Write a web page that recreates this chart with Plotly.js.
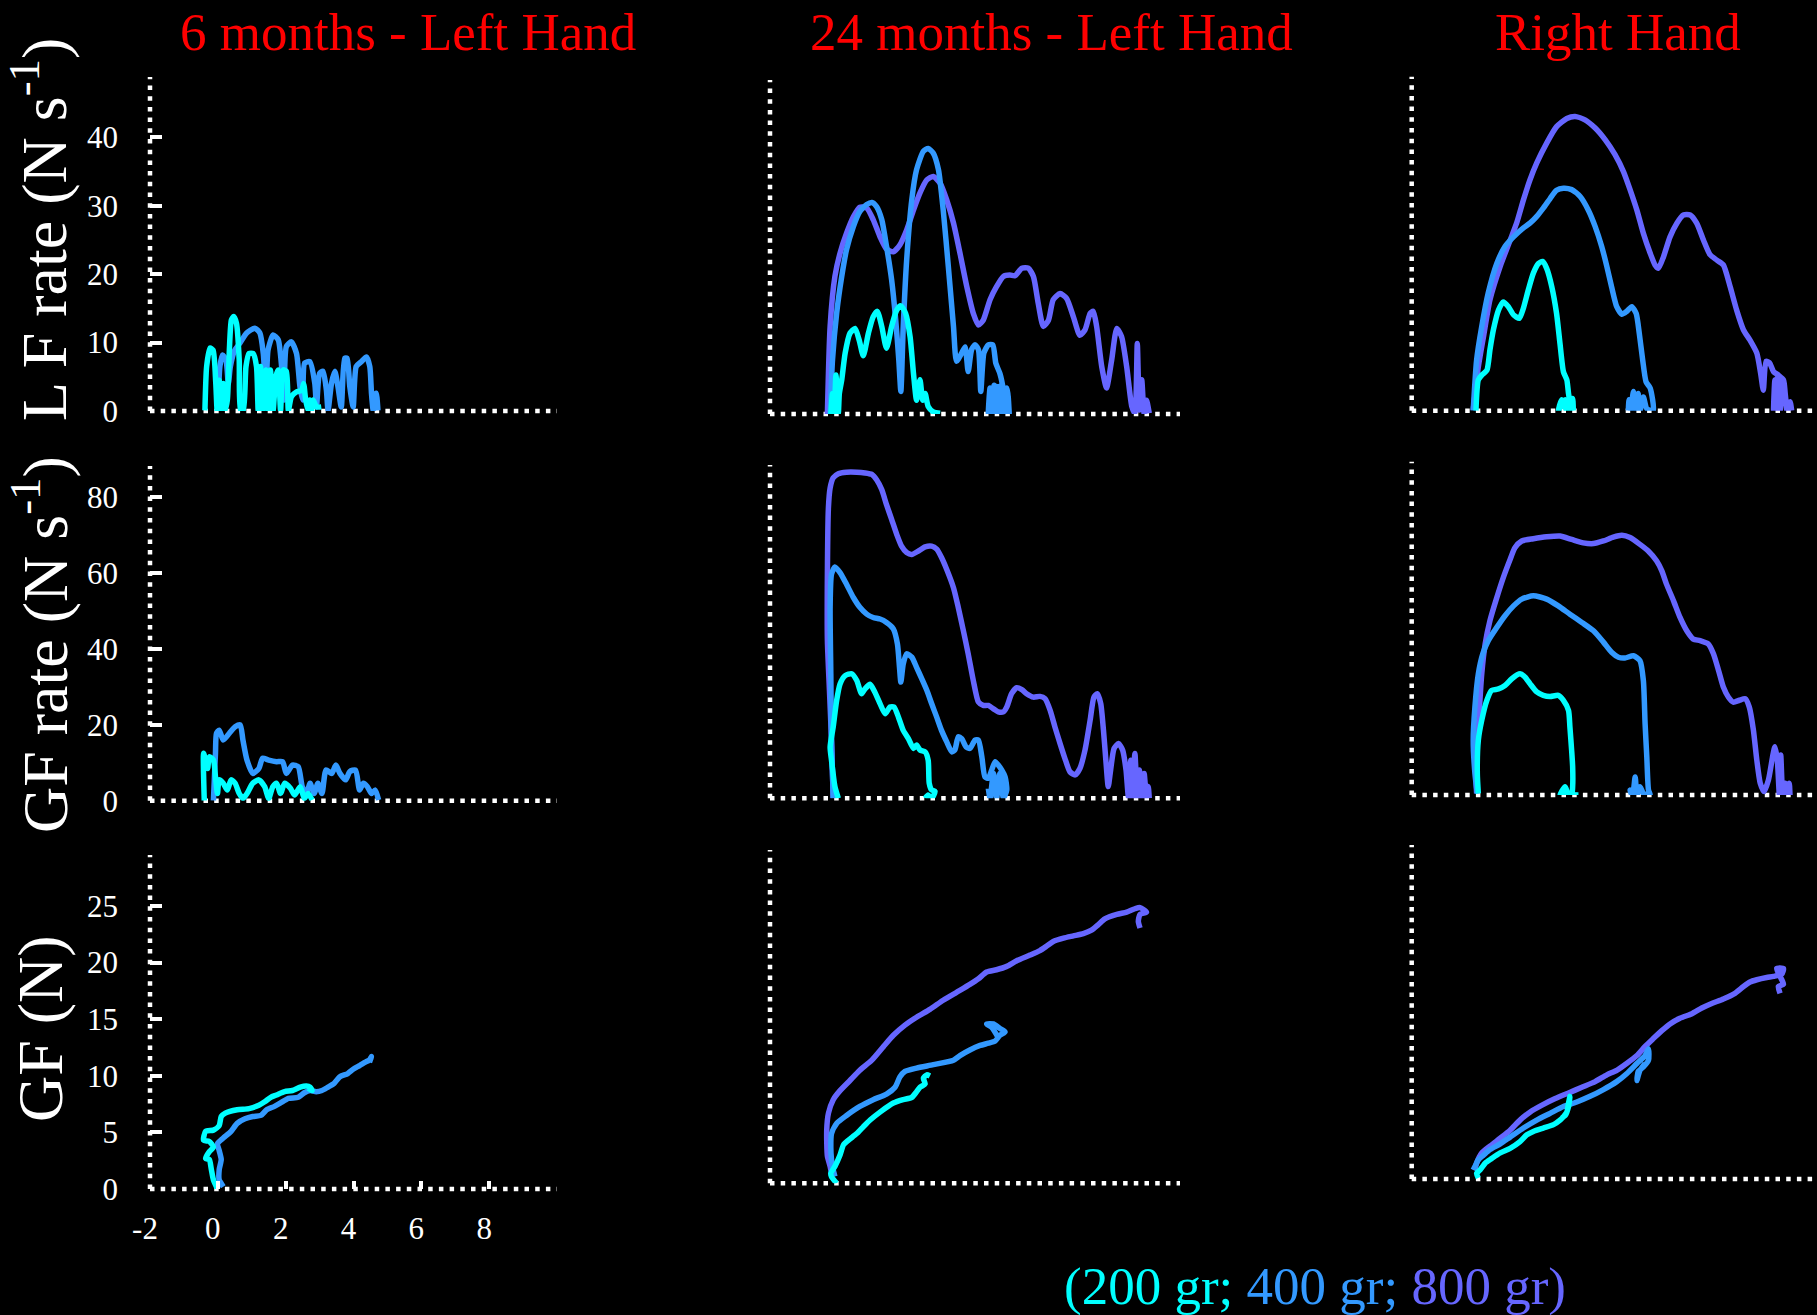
<!DOCTYPE html>
<html><head><meta charset="utf-8">
<script src="https://cdn.plot.ly/plotly-3.0.1.min.js"></script>
<style>html,body{margin:0;padding:0;background:#000;}#chart{width:1817px;height:1315px;}</style>
</head><body><div id="chart"></div>
<script>
// ---- labels ----
const weightLabels = ['200 gr', '400 gr', '800 gr'];
const weightColors = ['#00FFFF', '#3399FF', '#6666FF'];
const colTitles = ['6 months - Left Hand', '24 months - Left Hand', 'Right Hand'];
const rowTitles = ['L F rate (N s<sup>-1</sup>)', 'GF rate (N s<sup>-1</sup>)', 'GF (N)'];
const xTickVals = [-2, 0, 2, 4, 6, 8];
const yTickVals = [[0, 10, 20, 30, 40], [0, 20, 40, 60, 80], [0, 5, 10, 15, 20, 25]];

// ---- Row 1: LF rate ----
const lfr_m6_200_x = [-0.38,-0.33,-0.23,-0.14,-0.06,-0.02,0.04,0.09,0.16,0.21,0.28,0.34,0.40,0.47,0.55,0.63,0.67,0.75,0.83,0.92,1.04,1.14,1.19,1.26,1.32,1.42,1.48,1.55,1.63,1.71,1.78,1.85,1.93,2.02,2.08,2.17,2.32,2.47,2.53,2.59,2.66,2.71,2.76,2.81,2.91,3.05];
const lfr_m6_200_y = [0.1,6.5,9.2,8.9,4.0,0.1,4.5,0.1,4.0,0.1,1.6,8.9,13.3,13.8,12.8,7.5,0.1,0.1,6.5,8.4,8.4,6.5,0.1,6.5,0.1,6.0,0.1,6.0,0.1,5.0,6.0,0.1,6.0,5.8,0.1,2.1,2.8,3.0,4.0,1.6,0.1,1.6,0,1.6,0.6,0.6];
const lfr_m6_400_x = [0.01,0.06,0.14,0.24,0.31,0.37,0.50,0.65,0.85,1.09,1.24,1.34,1.42,1.48,1.63,1.78,1.88,1.95,2.02,2.17,2.32,2.42,2.50,2.56,2.71,2.86,2.91,3.00,3.10,3.20,3.25,3.35,3.45,3.54,3.64,3.74,3.81,3.89,3.99,4.08,4.23,4.38,4.48,4.53,4.58,4.62,4.67,4.72];
const lfr_m6_400_y = [0,6.5,8.2,7.5,4.0,6.5,8.9,9.9,11.4,12.1,11.4,8.4,2.6,8.9,11.1,10.4,6.5,1.6,9.4,10.1,8.4,3.6,1.6,7.0,7.2,4.0,0.6,5.5,5.8,3.1,0.1,4.0,5.8,3.6,0.6,7.7,7.7,3.6,0.6,6.5,7.2,7.9,6.5,2.6,0.1,2.1,2.6,0.1];

const lfr_m24_200_x = [-0.22,-0.17,-0.12,-0.07,0.00,0.03,0.10,0.20,0.34,0.49,0.61,0.73,0.88,1.02,1.14,1.27,1.41,1.56,1.71,1.83,1.97,2.10,2.20,2.29,2.39,2.47,2.54,2.63,2.78,2.98];
const lfr_m24_200_y = [0,3.0,0.1,5.7,0.1,3.0,5.0,8.9,11.8,12.5,10.8,8.5,11.8,14.2,15.0,12.8,9.6,12.8,15.2,15.8,14.7,11.3,5.9,2.0,5.0,2.0,3.0,1.1,0.3,0.1];
const lfr_m24_400_x = [-0.24,-0.17,-0.05,0.10,0.24,0.44,0.63,0.83,0.98,1.12,1.27,1.41,1.56,1.68,1.77,1.83,1.90,2.00,2.15,2.29,2.49,2.63,2.78,2.93,3.07,3.22,3.37,3.46,3.61,3.71,3.80,3.90,4.00,4.10,4.17,4.26,4.39,4.52,4.61,4.73,4.83,4.88,4.78,4.71,4.63,4.56,4.49,4.44,4.39,4.49,4.63,4.78,4.93,5.00,4.96,4.88];
const lfr_m24_400_y = [0,7.9,14.7,20.1,24.0,27.4,29.6,30.6,30.9,30.3,28.4,24.5,19.6,13.7,7.9,3.3,12.8,22.5,31.3,35.7,38.4,38.8,38.1,35.7,29.8,21.5,12.8,7.7,8.9,9.8,6.2,9.4,10.1,9.4,3.3,8.9,10.1,10.1,7.4,5.9,3.5,1.1,0.1,4.0,0.1,4.2,0.1,3.8,0.1,3.0,4.0,3.0,3.8,0.1,3.0,0];
const lfr_m24_800_x = [-0.32,-0.24,-0.10,0.05,0.24,0.44,0.63,0.83,1.02,1.22,1.41,1.61,1.80,2.00,2.20,2.39,2.59,2.78,2.98,3.17,3.37,3.56,3.76,3.95,4.10,4.24,4.44,4.63,4.83,5.02,5.17,5.37,5.56,5.71,5.85,6.00,6.15,6.29,6.49,6.68,6.88,7.07,7.22,7.37,7.46,7.56,7.71,7.85,8.00,8.15,8.29,8.44,8.59,8.68,8.75,8.81,8.88,8.95,9.02,9.10];
const lfr_m24_800_y = [0,12.8,20.1,23.5,26.4,28.8,30.2,30.1,28.4,25.9,24.1,23.7,24.7,26.9,29.8,32.3,34.2,34.7,33.7,31.3,27.9,23.5,18.6,14.7,13.0,13.7,16.7,18.6,20.1,20.3,20.2,21.3,21.3,20.1,16.2,12.8,13.7,16.7,17.6,16.9,14.2,11.5,12.3,14.7,15.0,12.8,6.9,3.8,7.9,12.5,11.3,6.9,1.1,0.1,10.3,0.6,5.0,0.1,2.0,0.1];

const lfr_rh_200_x = [-0.12,-0.05,0.05,0.20,0.29,0.39,0.54,0.68,0.83,0.98,1.15,1.27,1.41,1.56,1.71,1.83,1.95,2.10,2.24,2.34,2.44,2.54,2.59,2.63,2.68,2.54,2.39,2.29,2.49,2.63,2.71,2.73];
const lfr_rh_200_y = [0,4.5,5.2,5.9,8.9,11.8,14.7,15.9,15.2,14.0,13.5,15.0,17.6,20.1,21.5,21.8,20.8,18.1,14.2,9.8,5.7,4.5,2.5,1.3,0,0,1.6,0,1.6,0,1.8,0];
const lfr_rh_400_x = [-0.20,-0.10,0.05,0.24,0.49,0.73,0.98,1.27,1.46,1.66,1.85,2.05,2.24,2.44,2.68,2.93,3.17,3.37,3.56,3.71,3.85,4.00,4.15,4.29,4.44,4.57,4.66,4.76,4.86,4.98,5.07,4.88,4.78,4.68,4.63,4.57,4.49,4.41,4.36,4.34];
const lfr_rh_400_y = [0,7.4,12.3,17.2,21.5,24.0,25.4,26.7,27.4,28.4,29.6,31.0,32.2,32.5,32.3,31.3,29.3,26.9,24.0,21.1,18.1,15.2,14.1,14.5,15.2,14.2,11.3,7.4,4.2,3.3,0,0.3,2.0,0,2.5,0,2.8,0,1.6,0];
const lfr_rh_800_x = [-0.20,-0.05,0.10,0.29,0.59,0.88,1.07,1.27,1.46,1.66,1.95,2.24,2.54,2.78,3.07,3.37,3.66,3.95,4.20,4.39,4.59,4.78,4.98,5.12,5.22,5.37,5.56,5.76,5.95,6.15,6.34,6.54,6.73,6.93,7.12,7.32,7.51,7.71,7.90,8.10,8.21,8.29,8.37,8.47,8.59,8.73,8.88,8.93,8.98,8.88,8.78,8.68,8.59,8.63,8.73,8.83,8.98,9.07,9.12];
const lfr_rh_800_y = [0.1,6.4,10.8,16.2,21.1,24.9,27.4,30.8,33.7,36.2,39.1,41.5,42.7,43.0,42.5,41.3,39.6,37.4,34.9,32.3,29.3,25.9,23.0,21.3,20.8,22.5,25.4,27.4,28.6,28.6,27.4,24.9,22.8,22.0,21.3,18.1,14.7,11.8,10.3,8.4,5.5,3.0,7.2,7.0,5.7,5.2,4.5,2.5,0,4.2,0,4.7,0,4.5,0,4.5,0.6,1.3,0];

// ---- Row 2: GF rate ----
const gfr_m6_200_x = [-0.40,-0.42,-0.36,-0.30,-0.25,-0.13,-0.07,-0.01,0.04,0.16,0.28,0.39,0.51,0.63,0.74,0.86,1.03,1.21,1.38,1.50,1.62,1.73,1.85,1.97,2.14,2.26,2.43,2.55,2.66,2.78];
const gfr_m6_200_y = [0,12.5,10.7,8.5,11.6,10.7,6.3,1.9,5.5,4.6,2.8,5.5,4.6,1.9,0.6,1.9,4.6,5.5,3.7,0.6,3.7,4.6,1.9,4.6,3.3,1.5,3.7,0.6,1.9,0.2];
const gfr_m6_400_x = [-0.13,-0.07,-0.04,0.04,0.16,0.34,0.51,0.66,0.74,0.86,1.03,1.21,1.32,1.50,1.73,1.91,2.02,2.20,2.37,2.49,2.61,2.72,2.84,2.95,3.07,3.19,3.36,3.48,3.60,3.77,3.89,4.06,4.18,4.29,4.41,4.53,4.64,4.74];
const gfr_m6_400_y = [0,12.5,17.8,18.6,16.0,17.8,19.5,20.0,16.0,10.7,7.2,8.5,11.2,10.7,10.3,10.3,7.2,9.4,9.0,3.7,1.9,4.6,1.9,4.6,1.9,8.1,7.2,9.4,7.2,5.5,7.7,8.1,2.8,4.6,3.7,1.9,2.8,0.2];

const gfr_m24_200_x = [0.00,-0.10,-0.20,-0.24,-0.15,-0.05,0.05,0.20,0.39,0.54,0.68,0.78,0.93,1.07,1.22,1.37,1.51,1.63,1.76,1.90,2.05,2.20,2.29,2.39,2.54,2.63,2.66,2.73,2.83,2.73,2.63,2.54];
const gfr_m24_200_y = [0,3.1,10.1,13.6,18.9,25.9,30.3,32.5,33.0,31.2,27.7,29.0,30.2,28.1,25.1,22.4,24.2,24.2,21.5,18.0,15.8,13.2,14.1,12.8,12.3,10.1,4.0,2.2,1.8,0,0.9,0];
const gfr_m24_400_x = [-0.15,-0.20,-0.22,-0.24,-0.20,-0.10,0.05,0.24,0.44,0.63,0.83,1.02,1.22,1.41,1.61,1.73,1.79,1.83,1.90,2.00,2.15,2.29,2.44,2.59,2.73,2.88,3.02,3.17,3.32,3.41,3.51,3.61,3.74,3.85,4.00,4.10,4.20,4.29,4.39,4.49,4.59,4.68,4.78,4.88,4.93,4.83,4.73,4.63,4.54,4.44,4.39];
const gfr_m24_400_y = [0,15.4,33.0,50.6,59.4,61.3,59.8,56.7,53.2,50.6,48.8,47.9,47.5,46.6,44.9,40.9,34.7,30.8,35.6,38.3,37.4,34.7,31.7,28.6,25.1,21.5,18.0,15.0,12.3,12.8,16.3,15.8,13.6,13.2,15.4,15.4,11.0,5.7,5.3,7.5,9.7,8.8,7.5,5.7,2.2,0,6.6,0,6.6,0,2.6];
const gfr_m24_800_x = [-0.15,-0.20,-0.26,-0.32,-0.32,-0.29,-0.24,-0.15,0.00,0.24,0.54,0.78,0.98,1.12,1.27,1.41,1.56,1.71,1.85,2.00,2.15,2.34,2.54,2.73,2.88,3.02,3.17,3.37,3.51,3.66,3.80,3.95,4.10,4.24,4.39,4.54,4.68,4.83,4.93,5.07,5.22,5.37,5.51,5.71,5.90,6.05,6.20,6.34,6.49,6.63,6.78,6.93,7.07,7.22,7.37,7.48,7.58,7.68,7.76,7.83,7.90,7.97,8.07,8.20,8.32,8.42,8.49,8.56,8.61,8.68,8.75,8.81,8.88,8.95,9.02,9.07,9.10];
const gfr_m24_800_y = [0,15.4,28.6,41.8,59.4,77.0,82.2,84.9,86.0,86.4,86.4,86.2,85.8,84.4,81.8,77.8,73.9,69.9,66.8,65.1,64.6,65.5,66.6,66.8,66.0,63.8,60.7,55.8,50.6,44.4,38.3,31.2,25.5,24.6,24.6,23.7,22.9,22.9,24.2,27.7,29.3,28.8,27.7,26.8,27.0,26.4,23.3,18.9,14.5,10.6,7.0,6.2,7.9,12.8,20.7,26.8,27.7,25.1,18.0,10.1,3.1,7.5,13.2,14.5,12.8,7.5,0.4,10.1,0,11.9,0,7.5,0,6.6,0,3.1,0];

const gfr_rh_200_x = [-0.05,-0.08,-0.05,0.05,0.20,0.34,0.54,0.73,0.93,1.17,1.32,1.46,1.66,1.85,2.05,2.29,2.44,2.59,2.63,2.68,2.71,2.71,2.68,2.44,2.34,2.49,2.59,2.78,2.88];
const gfr_rh_200_y = [0.4,5.7,14.5,19.8,25.1,27.7,28.1,29.0,30.8,32.1,31.2,29.5,27.3,26.4,26.1,26.4,25.1,22.4,18.0,11.9,7.5,2.2,0,0.4,0,2.2,0,0,0];
const gfr_rh_400_x = [-0.08,-0.15,-0.20,-0.15,-0.05,0.08,0.24,0.49,0.73,0.98,1.22,1.56,1.95,2.29,2.63,2.98,3.32,3.61,3.85,4.05,4.24,4.49,4.68,4.78,4.83,4.88,4.93,4.98,4.78,4.68,4.59,4.54,4.47,4.39,4.44];
const gfr_rh_400_y = [0.4,5.7,14.5,23.3,32.1,37.4,40.9,44.4,47.5,50.1,51.9,52.8,51.9,50.1,47.9,45.7,43.5,40.5,37.8,36.5,36.3,36.9,35.6,30.3,18.9,10.1,1.3,0,0.4,2.2,0,4.8,0.4,1.3,0];
const gfr_rh_800_x = [-0.10,-0.12,-0.05,0.05,0.15,0.29,0.49,0.68,0.88,1.02,1.22,1.56,1.95,2.34,2.68,3.02,3.32,3.61,3.90,4.15,4.39,4.68,4.93,5.17,5.32,5.46,5.66,5.85,6.05,6.24,6.44,6.68,6.83,6.98,7.12,7.27,7.41,7.59,7.76,7.88,8.00,8.10,8.20,8.31,8.44,8.57,8.63,8.70,8.76,8.80,8.86,8.93,9.00,9.05,9.07];
const gfr_rh_800_y = [0.4,5.7,18.0,32.1,40.0,46.2,52.3,57.6,62.4,65.5,67.3,67.9,68.4,68.6,67.7,66.8,66.6,67.3,68.3,68.8,68.2,66.4,64.6,62.0,59.4,55.8,51.5,47.1,43.5,41.3,40.9,40.0,37.4,33.0,28.6,25.9,24.6,25.1,25.5,23.3,17.2,9.2,3.1,0.9,4.0,10.6,12.8,9.2,0,10.6,0,3.1,0,3.1,0];

// ---- Row 3: GF ----
const gf_m6_200_x = [-0.01,-0.13,-0.19,-0.25,-0.36,-0.25,-0.13,-0.25,-0.42,-0.36,-0.13,0.04,0.10,0.22,0.57,0.92,1.21,1.38,1.56,1.73,1.97,2.20,2.43,2.61,2.72,2.78,2.66];
const gf_m6_200_y = [0,0.8,1.7,2.6,2.7,3.3,3.7,4.2,4.3,5.1,5.2,5.6,6.4,6.7,7.0,7.1,7.4,7.7,8.1,8.3,8.6,8.7,9.0,9.1,9.0,8.7,8.9];
const gf_m6_400_x = [0.16,0.10,0.04,0.04,0.10,0.04,-0.01,0.16,0.39,0.57,0.80,1.03,1.27,1.44,1.67,1.85,2.08,2.37,2.55,2.72,2.90,3.07,3.25,3.42,3.59,3.83,4.00,4.18,4.35,4.47,4.53,4.47];
const gf_m6_400_y = [0.2,0.5,0.8,1.7,2.6,3.4,4.0,4.5,5.1,5.8,6.2,6.4,6.5,7.0,7.3,7.6,8.0,8.1,8.5,8.7,8.6,8.7,9.0,9.3,9.9,10.2,10.6,10.9,11.2,11.4,11.7,11.2];

const gf_m24_200_x = [-0.05,-0.20,-0.22,-0.10,0.05,0.15,0.29,0.54,0.73,0.93,1.22,1.61,1.90,2.15,2.29,2.39,2.54,2.49,2.59,2.68];
const gf_m24_200_y = [0,0.6,0.9,1.5,2.5,3.4,3.8,4.4,5.0,5.6,6.3,7.1,7.4,7.6,8.1,8.5,8.8,9.3,9.6,9.5];
const gf_m24_400_x = [-0.10,-0.15,-0.20,-0.22,-0.20,-0.05,0.24,0.63,1.02,1.41,1.66,1.80,1.95,2.29,2.78,3.37,3.56,3.85,4.15,4.39,4.59,4.73,4.88,4.73,4.54,4.34,4.49,4.68];
const gf_m24_400_y = [0.6,1.2,2.1,3.2,4.4,5.3,6.0,6.8,7.4,7.9,8.5,9.4,9.9,10.2,10.5,10.9,11.3,11.8,12.2,12.4,12.6,13.1,13.4,13.7,14.1,14.1,13.8,12.9];
const gf_m24_800_x = [-0.20,-0.24,-0.32,-0.34,-0.29,-0.15,0.05,0.34,0.63,0.98,1.32,1.61,1.95,2.29,2.68,3.07,3.46,3.85,4.10,4.34,4.63,4.93,5.22,5.61,5.90,6.10,6.29,6.59,6.88,7.17,7.41,7.61,7.80,8.15,8.44,8.68,8.83,9.02,8.83,8.78,8.83];
const gf_m24_800_y = [0.9,1.5,2.4,4.7,6.2,7.4,8.2,9.1,10.0,10.9,12.1,13.1,14.0,14.7,15.4,16.2,16.9,17.6,18.1,18.7,18.9,19.2,19.7,20.2,20.6,21.0,21.4,21.7,21.9,22.1,22.4,22.9,23.4,23.8,24.0,24.3,24.4,24.0,23.8,23.2,22.6];

const gf_rh_200_x = [-0.05,-0.10,0.00,0.15,0.34,0.59,0.88,1.17,1.37,1.56,1.85,2.15,2.34,2.44,2.54,2.59,2.63,2.59,2.49,2.39];
const gf_rh_200_y = [0.1,0.5,0.8,1.4,1.8,2.3,2.7,3.3,3.9,4.2,4.5,4.8,5.2,5.5,5.9,6.7,7.3,6.4,5.6,5.4];
const gf_rh_400_x = [-0.20,-0.15,-0.05,0.10,0.29,0.59,0.88,1.27,1.66,2.05,2.44,2.83,3.22,3.61,4.00,4.29,4.59,4.83,4.93,4.93,4.78,4.63,4.59,4.68,4.83];
const gf_rh_400_y = [0.8,1.1,1.7,2.1,2.6,3.1,3.7,4.5,5.2,5.8,6.4,6.8,7.3,7.9,8.6,9.3,10.2,10.9,11.5,10.5,9.9,9.5,8.7,9.6,10.2];
const gf_rh_800_x = [-0.15,-0.10,0.05,0.29,0.59,0.88,1.17,1.46,1.80,2.20,2.59,2.98,3.37,3.71,4.00,4.29,4.59,4.83,5.07,5.32,5.56,5.85,6.20,6.49,6.78,7.12,7.46,7.71,7.90,8.10,8.39,8.59,8.83,8.88,8.68,8.78,8.88,8.73,8.78];
const gf_rh_800_y = [0.8,1.4,2.3,2.9,3.6,4.3,5.2,5.9,6.5,7.1,7.6,8.1,8.6,9.2,9.6,10.2,10.9,11.7,12.4,13.1,13.7,14.2,14.6,15.1,15.5,15.9,16.4,17.0,17.4,17.6,17.8,17.9,18.1,18.6,18.6,17.9,17.2,17.0,16.4];

// ---- panel assembly (panel n = row*3 + col + 1); series order: 800, 400, 200 (200 on top) ----
const panelSeries = {
  1: [[1, lfr_m6_400_x, lfr_m6_400_y], [0, lfr_m6_200_x, lfr_m6_200_y]],
  2: [[2, lfr_m24_800_x, lfr_m24_800_y], [1, lfr_m24_400_x, lfr_m24_400_y], [0, lfr_m24_200_x, lfr_m24_200_y]],
  3: [[2, lfr_rh_800_x, lfr_rh_800_y], [1, lfr_rh_400_x, lfr_rh_400_y], [0, lfr_rh_200_x, lfr_rh_200_y]],
  4: [[1, gfr_m6_400_x, gfr_m6_400_y], [0, gfr_m6_200_x, gfr_m6_200_y]],
  5: [[2, gfr_m24_800_x, gfr_m24_800_y], [1, gfr_m24_400_x, gfr_m24_400_y], [0, gfr_m24_200_x, gfr_m24_200_y]],
  6: [[2, gfr_rh_800_x, gfr_rh_800_y], [1, gfr_rh_400_x, gfr_rh_400_y], [0, gfr_rh_200_x, gfr_rh_200_y]],
  7: [[1, gf_m6_400_x, gf_m6_400_y], [0, gf_m6_200_x, gf_m6_200_y]],
  8: [[2, gf_m24_800_x, gf_m24_800_y], [1, gf_m24_400_x, gf_m24_400_y], [0, gf_m24_200_x, gf_m24_200_y]],
  9: [[2, gf_rh_800_x, gf_rh_800_y], [1, gf_rh_400_x, gf_rh_400_y], [0, gf_rh_200_x, gf_rh_200_y]]
};

// ---- layout geometry ----
const W = 1817, H = 1315;
const xDom = [[150 / W, 557 / W], [770 / W, 1180 / W], [1411.7 / W, 1]];
const xRng = [[-2, 10], [-2, 10], [-2, 9.861]];
const yDomPx = [
  [[411, 77], [414, 80], [410.7, 76.7]],
  [[800.7, 466], [798.3, 465], [795, 461.7]],
  [[1189, 855], [1183.3, 850], [1179, 845]]
];
const yRng = [[0, 48.8], [0, 88.3], [0, 29.5]];
const FONT = 'Liberation Serif, Times New Roman, serif';

const traces = [];
const layout = {
  width: W, height: H,
  paper_bgcolor: '#000', plot_bgcolor: '#000',
  margin: {l: 0, r: 0, t: 0, b: 0},
  showlegend: false,
  hovermode: false,
  font: {family: FONT, color: '#fff'},
  shapes: [], annotations: []
};

for (let r = 0; r < 3; r++) {
  for (let c = 0; c < 3; c++) {
    const n = r * 3 + c + 1;
    const sfx = n === 1 ? '' : String(n);
    const xa = {
      domain: xDom[c], range: xRng[c], anchor: 'y' + sfx,
      showgrid: false, zeroline: false, showline: false,
      showticklabels: false, ticks: ''
    };
    if (r === 2 && c === 0) {
      Object.assign(xa, {
        tickmode: 'array', tickvals: xTickVals, ticktext: xTickVals.map(String),
        showticklabels: true, ticks: 'inside', ticklen: 8, tickwidth: 4, tickcolor: '#fff',
        tickfont: {family: FONT, size: 31, color: '#fff'},
        ticklabelstandoff: 18, ticklabelshift: -5
      });
    }
    const yd = yDomPx[r][c];
    const ya = {
      domain: [1 - yd[0] / H, 1 - yd[1] / H], range: yRng[r], anchor: 'x' + sfx,
      showgrid: false, zeroline: false, showline: false,
      showticklabels: false, ticks: ''
    };
    if (c === 0) {
      Object.assign(ya, {
        tickmode: 'array', tickvals: yTickVals[r], ticktext: yTickVals[r].map(String),
        showticklabels: true, ticks: 'inside', ticklen: 12, tickwidth: 4, tickcolor: '#fff',
        tickfont: {family: FONT, size: 31, color: '#fff'},
        ticklabelstandoff: 31
      });
    }
    layout['xaxis' + sfx] = xa;
    layout['yaxis' + sfx] = ya;

    // dotted axis lines
    const dotted = {color: '#fff', width: 4.5, dash: '4.5px,6.2px'};
    layout.shapes.push({type: 'line', xref: 'x' + sfx + ' domain', yref: 'y' + sfx + ' domain',
      x0: 0, x1: 0, y0: 0, y1: 1, line: dotted, layer: 'below'});
    layout.shapes.push({type: 'line', xref: 'x' + sfx + ' domain', yref: 'y' + sfx + ' domain',
      x0: 0, x1: 1, y0: 0, y1: 0, line: dotted, layer: 'below'});

    panelSeries[n].forEach(([w, xs, ys]) => {
      traces.push({
        type: 'scatter', mode: 'lines', x: xs, y: ys,
        xaxis: 'x' + sfx, yaxis: 'y' + sfx, name: weightLabels[w],
        line: {color: weightColors[w], width: 5.5, shape: 'spline', smoothing: 0.6},
        hoverinfo: 'skip'
      });
    });
  }
}

// column titles
const colTitleX = [408, 1051.6, 1617.6];
colTitles.forEach((t, i) => layout.annotations.push({
  text: t, xref: 'paper', yref: 'paper', x: colTitleX[i] / W, y: 1 - 32 / H,
  xanchor: 'center', yanchor: 'middle', showarrow: false,
  font: {family: FONT, size: 53, color: '#FF0000'}
}));
// row titles
const rowTitleY = [230, 645, 1029];
rowTitles.forEach((t, i) => layout.annotations.push({
  text: t, xref: 'paper', yref: 'paper', x: 40 / W, y: 1 - rowTitleY[i] / H,
  xanchor: 'center', yanchor: 'middle', showarrow: false, textangle: -90,
  font: {family: FONT, size: 64, color: '#fff'}
}));
// weight key
const keyText = '<span style="color:' + weightColors[0] + '">(' + weightLabels[0] + '; </span>' +
  '<span style="color:' + weightColors[1] + '">' + weightLabels[1] + '; </span>' +
  '<span style="color:' + weightColors[2] + '">' + weightLabels[2] + ')</span>';
layout.annotations.push({
  text: keyText, xref: 'paper', yref: 'paper', x: 1315 / W, y: 1 - 1286 / H,
  xanchor: 'center', yanchor: 'middle', showarrow: false,
  font: {family: FONT, size: 53, color: weightColors[0]}
});

Plotly.newPlot('chart', traces, layout, {staticPlot: true, displayModeBar: false});
</script>
</body></html>
